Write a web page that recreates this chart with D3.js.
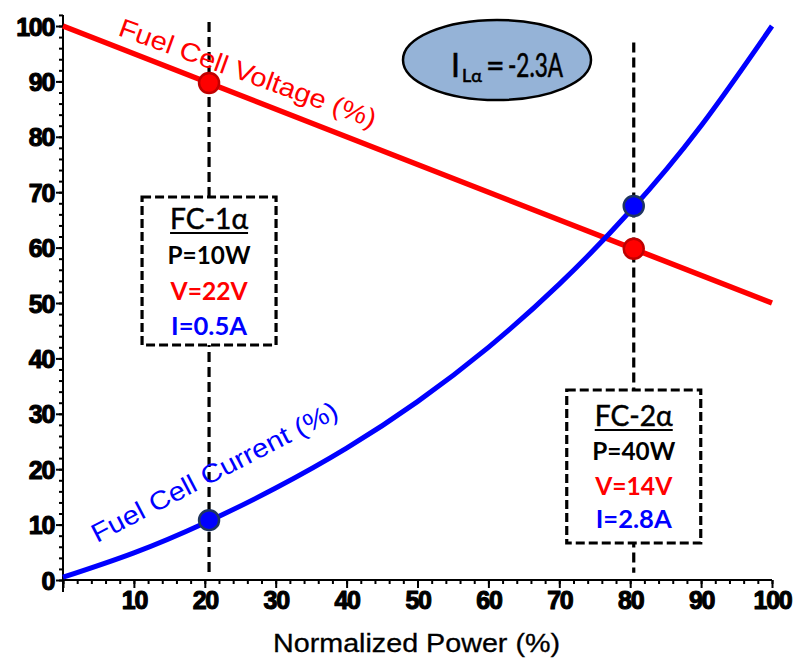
<!DOCTYPE html>
<html>
<head>
<meta charset="utf-8">
<script src="https://cdn.jsdelivr.net/npm/d3@7"></script>
<style>
  html, body { margin: 0; padding: 0; background: #fff; }
  svg { display: block; }
</style>
</head>
<body>
<svg id="chart" width="795" height="662"></svg>
<script>
// Normalized power axis ticks (%)
const xTickLabels = [10, 20, 30, 40, 50, 60, 70, 80, 90, 100];
const yTickLabels = [0, 10, 20, 30, 40, 50, 60, 70, 80, 90, 100];

// Fuel cell voltage (%) vs normalized power (%)
const voltagePower = [0, 100];
const voltagePct = [100, 50];

// Fuel cell current (%) vs normalized power (%)
const currentPower = [0, 10, 20, 30, 40, 50, 60, 70, 80, 90, 100];
const currentPct = [0.5, 4.9, 10.3, 16.6, 23.8, 32.2, 42.0, 53.4, 66.6, 82.0, 100];

// Operating points
const opPower = [20.6, 80.5];
const opVoltage = [89.7, 59.8];
const opCurrent = [10.8, 67.5];
const opName = ["FC-1\u03b1", "FC-2\u03b1"];
const opP = ["P=10W", "P=40W"];
const opV = ["V=22V", "V=14V"];
const opI = ["I=0.5A", "I=2.8A"];

// Load current note
const loadCurrent = "-2.3A";

const svg = d3.select("#chart");
const x = d3.scaleLinear().domain([0, 100]).range([63, 772]);
const y = d3.scaleLinear().domain([0, 102]).range([580, 580 - 5.54 * 102]);

const RED = "#ff0000", BLUE = "#0000ff";
const tickFont = "'Liberation Sans', Arial, sans-serif";
const boxFont = "Lato, 'Open Sans', sans-serif";

function styleTickText(sel) {
  sel.attr("font-family", tickFont).attr("font-weight", "bold").attr("font-size", 25)
    .attr("letter-spacing", -1.3).attr("fill", "#000")
    .attr("stroke", "#000").attr("stroke-width", 1.1).attr("stroke-linejoin", "round");
}

// ---- axes ----
const gx = svg.append("g").attr("transform", `translate(0,${y(0)})`);
gx.call(d3.axisBottom(x).tickValues(d3.range(0, 101, 2)).tickSize(4).tickFormat(""));
gx.call(g => g.append("g").call(d3.axisBottom(x).tickValues([0].concat(xTickLabels)).tickSize(8).tickFormat(d3.format("d"))));
gx.selectAll(".domain").remove();
gx.append("line").attr("x1", x(0)).attr("x2", x(100)).attr("stroke", "#000").attr("stroke-width", 2);
gx.selectAll("line").attr("stroke", "#000").attr("stroke-width", 2);
gx.selectAll("text").filter(d => d === 0).remove();
gx.selectAll("text").call(styleTickText).attr("dy", null).attr("y", 29);

const gy = svg.append("g").attr("transform", `translate(${x(0)},0)`);
gy.call(d3.axisLeft(y).tickValues(d3.range(0, 103, 2)).tickSize(4).tickFormat(""));
gy.call(g => g.append("g").call(d3.axisLeft(y).tickValues(yTickLabels).tickSize(7).tickFormat(d3.format("d"))));
gy.selectAll(".domain").remove();
gy.append("line").attr("y1", y(0) + 12).attr("y2", y(102)).attr("stroke", "#000").attr("stroke-width", 2);
gy.selectAll("line").attr("stroke", "#000").attr("stroke-width", 2);
gy.selectAll("text").call(styleTickText).attr("x", -9).attr("dy", "0.36em");

svg.append("text")
  .attr("x", 273).attr("y", 652)
  .attr("font-family", tickFont).attr("font-size", 25)
  .attr("stroke", "#000").attr("stroke-width", 0.3)
  .attr("textLength", 287).attr("lengthAdjust", "spacingAndGlyphs")
  .attr("fill", "#000").text("Normalized Power (%)");

// ---- dashed guide lines through operating points ----
const guideTop = [100.7, 97];
svg.append("g").selectAll("line").data(opPower).join("line")
  .attr("x1", d => x(d)).attr("x2", d => x(d))
  .attr("y1", (d, i) => y(guideTop[i])).attr("y2", y(1.3))
  .attr("stroke", "#000").attr("stroke-width", 3.2).attr("stroke-dasharray", "10,5");

// ---- curves ----
const line = d3.line().x(d => x(d[0])).y(d => y(d[1]));
svg.append("path")
  .datum(voltagePower.map((p, i) => [p, voltagePct[i]]))
  .attr("d", line).attr("fill", "none").attr("stroke", RED).attr("stroke-width", 5.5);
svg.append("path")
  .datum(currentPower.map((p, i) => [p, currentPct[i]]))
  .attr("d", line.curve(d3.curveNatural)).attr("fill", "none")
  .attr("stroke", BLUE).attr("stroke-width", 5);

// ---- curve labels ----
svg.append("text")
  .attr("transform", "translate(117,35) rotate(20)")
  .attr("font-family", tickFont).attr("font-size", 26).attr("fill", RED)
  .attr("textLength", 272).attr("lengthAdjust", "spacingAndGlyphs")
  .text("Fuel Cell Voltage (%)");
svg.append("text")
  .attr("transform", "translate(97,543) rotate(-27.5)")
  .attr("font-family", tickFont).attr("font-size", 26).attr("fill", BLUE)
  .attr("textLength", 274).attr("lengthAdjust", "spacingAndGlyphs")
  .text("Fuel Cell Current (%)");

// ---- annotation boxes ----
const boxLayout = [
  { top: 197, h: 148, base: [229, 264, 300, 335] },
  { top: 390, h: 153, base: [426, 460, 495, 528] }
];
const boxW = 134;
opPower.forEach((p, i) => {
  const cx = x(p), L = boxLayout[i];
  const g = svg.append("g");
  g.append("rect")
    .attr("x", cx - boxW / 2).attr("y", L.top).attr("width", boxW).attr("height", L.h)
    .attr("fill", "#fff").attr("stroke", "#000").attr("stroke-width", 3.2)
    .attr("stroke-dasharray", "9,4");
  g.append("text").attr("x", cx).attr("y", L.base[0]).attr("text-anchor", "middle")
    .attr("font-family", boxFont).attr("font-size", 28).attr("fill", "#000")
    .attr("stroke", "#000").attr("stroke-width", 0.5)
    .attr("textLength", 78).attr("lengthAdjust", "spacingAndGlyphs").text(opName[i]);
  g.append("line").attr("x1", cx - 39).attr("x2", cx + 39)
    .attr("y1", L.base[0] + 4).attr("y2", L.base[0] + 4).attr("stroke", "#000").attr("stroke-width", 2);
  const rows = [[opP[i], "#000", 83], [opV[i], RED, 77], [opI[i], BLUE, 76]];
  rows.forEach((r, k) => {
    g.append("text").attr("x", cx).attr("y", L.base[k + 1]).attr("text-anchor", "middle")
      .attr("font-family", boxFont).attr("font-weight", "bold").attr("font-size", 24)
      .attr("fill", r[1]).attr("textLength", r[2]).attr("lengthAdjust", "spacingAndGlyphs")
      .text(r[0]);
  });
});

// ---- operating point markers ----
svg.append("g").selectAll("circle").data(opPower).join("circle")
  .attr("cx", d => x(d)).attr("cy", (d, i) => y(opVoltage[i])).attr("r", 10)
  .attr("fill", RED).attr("stroke", "#c00000").attr("stroke-width", 2.5);
svg.append("g").selectAll("circle").data(opPower).join("circle")
  .attr("cx", d => x(d)).attr("cy", (d, i) => y(opCurrent[i])).attr("r", 10)
  .attr("fill", BLUE).attr("stroke", "#1f3560").attr("stroke-width", 2.5);

// ---- load current ellipse ----
svg.append("ellipse").attr("cx", 497).attr("cy", 60).attr("rx", 94).attr("ry", 40)
  .attr("fill", "#95b3d7").attr("stroke", "#000").attr("stroke-width", 2.5);
const et = svg.append("text").attr("y", 77).attr("font-family", boxFont).attr("fill", "#000")
  .attr("stroke", "#000").attr("stroke-width", 0.6);
et.append("tspan").attr("x", 451).attr("font-size", 32).text("I");
et.append("tspan").attr("x", 462).attr("dy", 5).attr("font-size", 18).text("L\u03b1");
et.append("tspan").attr("x", 486).attr("dy", -5).attr("font-size", 32).text("=");
et.append("tspan").attr("x", 508).attr("font-size", 32)
  .attr("textLength", 55).attr("lengthAdjust", "spacingAndGlyphs").text(loadCurrent);
</script>
</body>
</html>
